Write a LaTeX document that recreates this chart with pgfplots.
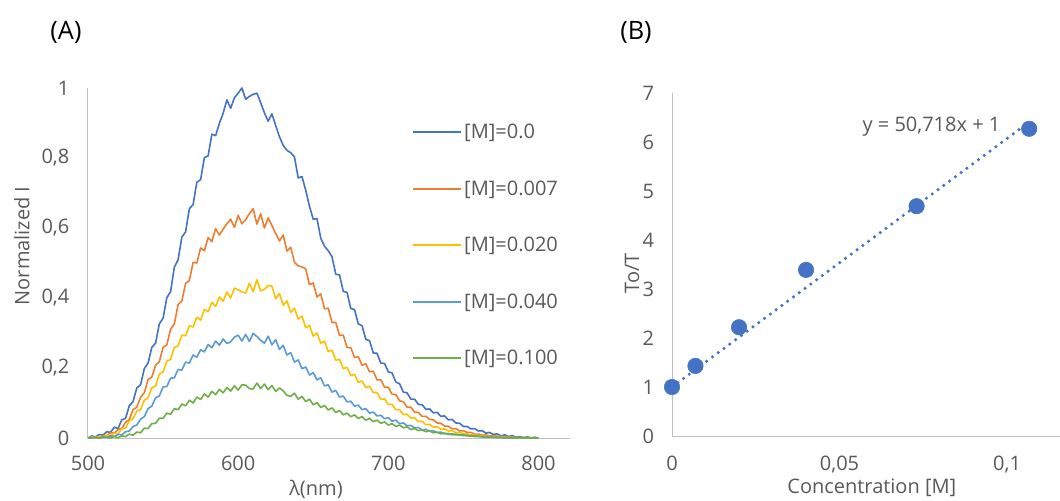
\documentclass[border=0pt]{standalone}
\usepackage{pgfplots}
\usepackage{pgfplotstable}
\pgfplotsset{compat=1.18}
\usepackage{fontspec}
\setmainfont{Open Sans}
\definecolor{textgray}{HTML}{595959}
\definecolor{axisgray}{HTML}{BFBFBF}
\definecolor{cb}{HTML}{4472C4}
\definecolor{co}{HTML}{ED7D31}
\definecolor{cy}{HTML}{FFC000}
\definecolor{cl}{HTML}{5B9BD5}
\definecolor{cg}{HTML}{70AD47}

\pgfplotstableread{
l b o y c g
500 0 0 0 0 0
502.5 0.006 0.001 0.003 0.000 0.002
505 0.003 0.004 0.001 0.002 0.001
507.5 0.010 0.003 0.004 0.000 0.000
510 0.008 0.006 0.003 0.003 0.002
512.5 0.018 0.007 0.008 0.002 0.002
515 0.016 0.015 0.007 0.006 0.000
517.5 0.031 0.014 0.014 0.005 0.004
520 0.027 0.024 0.012 0.010 0.001
522.5 0.052 0.027 0.026 0.009 0.006
525 0.056 0.045 0.028 0.018 0.004
527.5 0.092 0.053 0.049 0.020 0.011
530 0.104 0.081 0.056 0.033 0.008
532.5 0.143 0.088 0.077 0.037 0.017
535 0.152 0.116 0.081 0.054 0.015
537.5 0.198 0.129 0.108 0.061 0.028
540 0.214 0.167 0.115 0.084 0.027
542.5 0.259 0.174 0.143 0.091 0.041
545 0.271 0.208 0.149 0.115 0.042
547.5 0.326 0.218 0.182 0.120 0.057
550 0.342 0.259 0.189 0.146 0.056
552.5 0.401 0.266 0.220 0.147 0.071
555 0.418 0.311 0.224 0.171 0.068
557.5 0.488 0.326 0.259 0.172 0.084
560 0.509 0.381 0.263 0.196 0.081
562.5 0.574 0.391 0.294 0.194 0.097
565 0.589 0.442 0.292 0.217 0.092
567.5 0.655 0.450 0.321 0.214 0.108
570 0.667 0.502 0.317 0.237 0.100
572.5 0.731 0.500 0.345 0.231 0.117
575 0.738 0.543 0.337 0.252 0.110
577.5 0.801 0.535 0.367 0.246 0.126
580 0.806 0.573 0.361 0.267 0.117
582.5 0.868 0.561 0.388 0.258 0.133
585 0.864 0.598 0.376 0.277 0.124
587.5 0.899 0.580 0.403 0.265 0.139
590 0.928 0.597 0.391 0.283 0.129
592.5 0.966 0.612 0.417 0.270 0.144
595 0.942 0.625 0.400 0.275 0.134
597.5 0.972 0.602 0.428 0.288 0.149
600 0.985 0.636 0.423 0.294 0.137
602.5 1.000 0.612 0.418 0.277 0.152
605 0.968 0.624 0.414 0.296 0.151
607.5 0.976 0.641 0.442 0.276 0.141
610 0.982 0.655 0.418 0.299 0.140
612.5 0.985 0.611 0.452 0.290 0.157
615 0.958 0.641 0.420 0.279 0.141
617.5 0.929 0.600 0.425 0.271 0.154
620 0.905 0.629 0.436 0.291 0.138
622.5 0.926 0.607 0.434 0.266 0.150
625 0.893 0.584 0.398 0.281 0.133
627.5 0.861 0.563 0.413 0.253 0.143
630 0.836 0.580 0.379 0.265 0.135
632.5 0.822 0.534 0.392 0.237 0.122
635 0.815 0.545 0.359 0.244 0.119
637.5 0.803 0.502 0.371 0.217 0.128
640 0.743 0.492 0.340 0.223 0.111
642.5 0.747 0.489 0.348 0.198 0.119
645 0.708 0.483 0.315 0.203 0.104
647.5 0.662 0.438 0.322 0.180 0.111
650 0.625 0.443 0.291 0.187 0.095
652.5 0.627 0.403 0.300 0.166 0.101
655 0.571 0.412 0.271 0.172 0.087
657.5 0.548 0.369 0.277 0.149 0.093
660 0.535 0.371 0.247 0.152 0.080
662.5 0.518 0.330 0.251 0.131 0.086
665 0.468 0.330 0.222 0.136 0.073
667.5 0.466 0.293 0.225 0.117 0.079
670 0.419 0.294 0.198 0.120 0.066
672.5 0.416 0.259 0.202 0.103 0.071
675 0.370 0.258 0.178 0.105 0.061
677.5 0.367 0.230 0.182 0.091 0.066
680 0.326 0.232 0.159 0.094 0.056
682.5 0.321 0.208 0.163 0.081 0.061
685 0.282 0.212 0.144 0.084 0.051
687.5 0.278 0.189 0.148 0.071 0.056
690 0.243 0.191 0.130 0.074 0.047
692.5 0.242 0.166 0.130 0.063 0.051
695 0.214 0.166 0.110 0.065 0.042
697.5 0.213 0.145 0.112 0.055 0.046
700 0.189 0.145 0.096 0.058 0.037
702.5 0.186 0.125 0.096 0.048 0.041
705 0.160 0.124 0.081 0.051 0.033
707.5 0.155 0.106 0.081 0.041 0.037
710 0.131 0.104 0.067 0.043 0.029
712.5 0.129 0.088 0.068 0.035 0.032
715 0.111 0.088 0.057 0.036 0.024
717.5 0.111 0.074 0.058 0.029 0.027
720 0.096 0.073 0.047 0.030 0.021
722.5 0.095 0.062 0.048 0.023 0.023
725 0.082 0.062 0.038 0.025 0.018
727.5 0.083 0.053 0.039 0.019 0.020
730 0.072 0.052 0.031 0.021 0.015
732.5 0.073 0.043 0.032 0.015 0.017
735 0.062 0.042 0.025 0.017 0.012
737.5 0.063 0.034 0.026 0.012 0.014
740 0.052 0.034 0.020 0.013 0.010
742.5 0.053 0.026 0.021 0.009 0.012
745 0.043 0.027 0.015 0.011 0.009
747.5 0.042 0.020 0.016 0.008 0.010
750 0.033 0.021 0.012 0.009 0.007
752.5 0.033 0.016 0.012 0.006 0.008
755 0.026 0.016 0.009 0.007 0.005
757.5 0.027 0.011 0.009 0.004 0.006
760 0.020 0.011 0.006 0.005 0.004
762.5 0.021 0.008 0.007 0.003 0.005
765 0.014 0.009 0.004 0.003 0.003
767.5 0.016 0.006 0.005 0.002 0.004
770 0.010 0.007 0.003 0.002 0.002
772.5 0.012 0.005 0.004 0.001 0.003
775 0.006 0.005 0.002 0.001 0.001
777.5 0.009 0.004 0.003 0.000 0.002
780 0.004 0.002 0.001 0.001 0.000
782.5 0.007 0.003 0.002 0.000 0.001
785 0.002 0.001 0.000 0.001 0.000
787.5 0.004 0.002 0.001 0.000 0.001
790 0.001 0.000 0.000 0.001 0.000
792.5 0.003 0.001 0.001 0.000 0.001
795 0.000 0.000 0.000 0.001 0.000
797.5 0.002 0.001 0.001 0.000 0.001
800 0 0 0 0 0
}\spectra

\pgfplotstableread{
x y
0 1.00
0.007 1.43
0.020 2.22
0.040 3.39
0.073 4.69
0.1066 6.27
}\stern

\pgfplotstableread{
x y
0 1
0.1066 6.4065
}\trend

\pgfplotsset{
  myaxis/.style={
    scale only axis,
    axis x line*=bottom,
    axis y line*=left,
    axis line style={draw=axisgray, line width=0.75pt},
    major tick length=0pt,
    tick style={draw=none},
    font=\fontsize{15}{18}\selectfont,
    tick label style={text=textgray, font=\fontsize{15}{18}\selectfont},
    label style={text=textgray, font=\fontsize{15}{18}\selectfont},
    /pgf/number format/assume math mode=true,
    /pgf/number format/.cd, use comma, fixed, 1000 sep={},
    /pgfplots/.cd,
    scaled ticks=false,
    clip=false,
  }
}

\begin{document}
\begin{tikzpicture}
\useasboundingbox (0pt,0pt) rectangle (795pt,375pt);

\node[font=\fontsize{19}{22}\selectfont, text=black] at (49.5pt,351pt) {(A)};
\node[font=\fontsize{19}{22}\selectfont, text=black] at (477pt,351pt) {(B)};

\begin{axis}[myaxis,
  at={(66pt,46.5pt)}, anchor=south west,
  width=361.5pt, height=262.5pt,
  xmin=500, xmax=821, ymin=0, ymax=1,
  xtick={500,600,700,800},
  ytick={0,0.2,0.4,0.6,0.8,1},
  yticklabel style={xshift=-10.5pt},
  xticklabel style={yshift=-10pt},
  xlabel={λ(nm)},
  ylabel={Normalized I},
  xlabel style={at={(axis description cs:0.473,-0.146)}, anchor=center},
  ylabel style={at={(axis description cs:-0.137,0.549)}, anchor=center, rotate=0},
  legend style={at={(axis cs:712.7,0.913)}, anchor=north west, draw=none, fill=none,
    font=\fontsize{15}{18}\selectfont, text=textgray, row sep=26pt,
    inner xsep=3pt, inner ysep=2pt},
  legend cell align=left,
  legend image code/.code={\draw[#1, line width=1.4pt] (0pt,0pt) -- (36pt,0pt);},
  every axis plot/.append style={line width=1.2pt, line join=round},
]
\addplot[cb, no markers] table[x=l, y=b] {\spectra};
\addlegendentry{[M]=0.0}
\addplot[co, no markers] table[x=l, y=o] {\spectra};
\addlegendentry{[M]=0.007}
\addplot[cy, no markers] table[x=l, y=y] {\spectra};
\addlegendentry{[M]=0.020}
\addplot[cl, no markers] table[x=l, y=c] {\spectra};
\addlegendentry{[M]=0.040}
\addplot[cg, no markers] table[x=l, y=g] {\spectra};
\addlegendentry{[M]=0.100}
\end{axis}

\begin{axis}[myaxis,
  at={(504pt,48pt)}, anchor=south west,
  width=291pt, height=257.25pt,
  xmin=0, xmax=0.1158, ymin=0, ymax=7,
  xtick={0,0.05,0.1},
  ytick={0,1,2,3,4,5,6,7},
  xticklabel style={yshift=-11.5pt, /pgf/number format/precision=2},
  yticklabel style={xshift=-10pt},
  xlabel={Concentration [M]},
  ylabel={To/T},
  xlabel style={at={(axis description cs:0.515,-0.152)}, anchor=center},
  ylabel style={at={(axis description cs:-0.103,0.475)}, anchor=center},
]
\addplot[cb, line width=2.6pt, line cap=round, dash pattern=on 0pt off 5.4pt] table[x=x, y=y] {\trend};
\addplot[cb, only marks, mark=*, mark size=5.8pt, mark options={fill=cb, draw=cb}] table[x=x, y=y] {\stern};
\node[anchor=east, text=textgray, font=\fontsize{15}{18}\selectfont] at (axis cs:0.0994,6.31) {y = 50,718x + 1};
\end{axis}
\end{tikzpicture}
\end{document}
